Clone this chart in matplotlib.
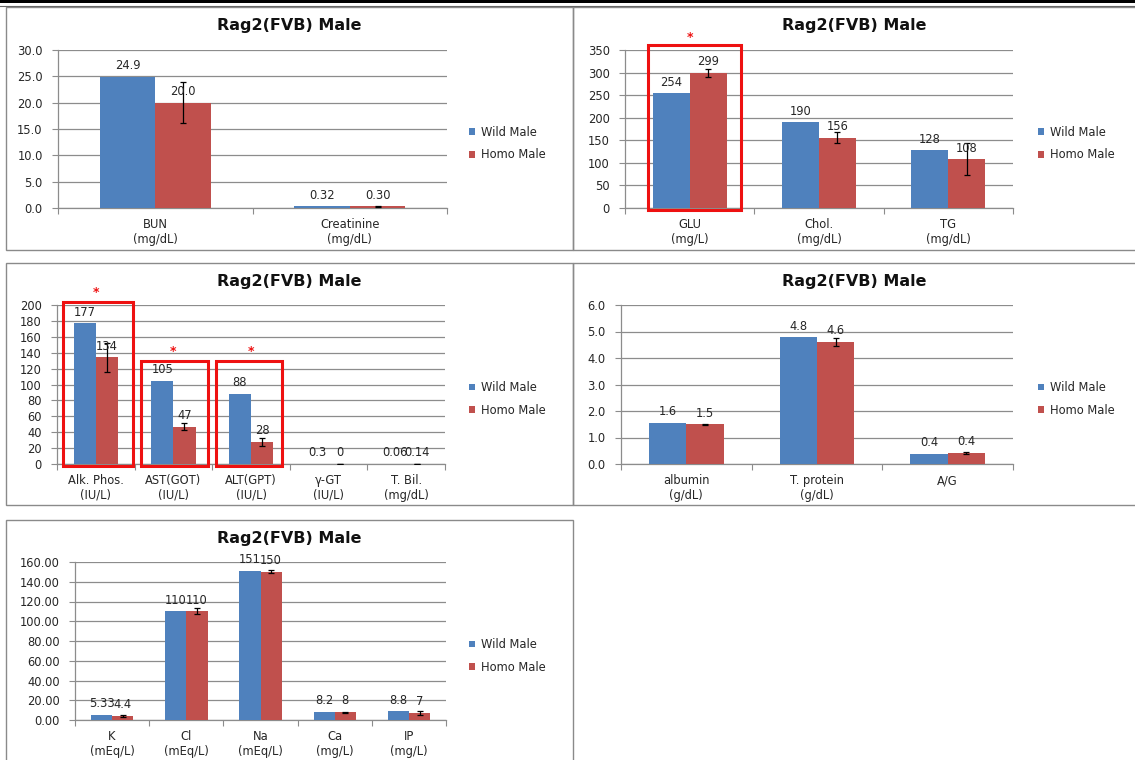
import matplotlib
matplotlib.use("Agg")
import matplotlib.pyplot as plt
from matplotlib.patches import Rectangle, Patch
from matplotlib.lines import Line2D
import numpy as np

# ---------------- data ----------------
title = "Rag2(FVB) Male"
series_names = ["Wild Male", "Homo Male"]

p1_cats = ["BUN\n(mg/dL)", "Creatinine\n(mg/dL)"]
p1_wild = [24.9, 0.32]
p1_homo = [20.0, 0.30]
p1_err = [3.9, 0.05]
p1_wild_lbl = ["24.9", "0.32"]
p1_homo_lbl = ["20.0", "0.30"]
p1_yticks = [0, 5, 10, 15, 20, 25, 30]

p2_cats = ["GLU\n(mg/L)", "Chol.\n(mg/dL)", "TG\n(mg/dL)"]
p2_wild = [254, 190, 128]
p2_homo = [299, 156, 108]
p2_err = [8.5, 12, 35]
p2_wild_lbl = ["254", "190", "128"]
p2_homo_lbl = ["299", "156", "108"]
p2_yticks = [0, 50, 100, 150, 200, 250, 300, 350]

p3_cats = ["Alk. Phos.\n(IU/L)", "AST(GOT)\n(IU/L)", "ALT(GPT)\n(IU/L)", "γ-GT\n(IU/L)", "T. Bil.\n(mg/dL)"]
p3_wild = [177, 105, 88, 0.3, 0.06]
p3_homo = [134, 47, 28, 0.0, 0.14]
p3_err = [18.5, 4, 5, 0, 0.02]
p3_wild_lbl = ["177", "105", "88", "0.3", "0.06"]
p3_homo_lbl = ["134", "47", "28", "0", "0.14"]
p3_yticks = [0, 20, 40, 60, 80, 100, 120, 140, 160, 180, 200]

p4_cats = ["albumin\n(g/dL)", "T. protein\n(g/dL)", "A/G"]
p4_wild = [1.55, 4.78, 0.38]
p4_homo = [1.50, 4.62, 0.42]
p4_err = [0.02, 0.15, 0.05]
p4_wild_lbl = ["1.6", "4.8", "0.4"]
p4_homo_lbl = ["1.5", "4.6", "0.4"]
p4_yticks = [0, 1, 2, 3, 4, 5, 6]

p5_cats = ["K\n(mEq/L)", "Cl\n(mEq/L)", "Na\n(mEq/L)", "Ca\n(mg/L)", "IP\n(mg/L)"]
p5_wild = [5.33, 110, 151, 8.2, 8.8]
p5_homo = [4.4, 110, 150, 8, 7]
p5_err = [1.0, 3.0, 1.5, 0.6, 2.0]
p5_wild_lbl = ["5.33", "110", "151", "8.2", "8.8"]
p5_homo_lbl = ["4.4", "110", "150", "8", "7"]
p5_yticks = [0, 20, 40, 60, 80, 100, 120, 140, 160]

# ---------------- style ----------------
W, H = 1135, 760
BLUE = "#4F81BD"
RED = "#C0504D"
GRID = "#8C8C8C"
AXC = "#8C8C8C"
TXT = "#262626"
BOXRED = "#EE1111"
FS = 8.3
plt.rcParams['font.family'] = ['DejaVu Sans']

fig = plt.figure(figsize=(W / 100, H / 100), dpi=100)


def fx(x):
    return x / W


def fy(y):
    return 1 - y / H


def add_ax(l, t, r, b):
    return fig.add_axes([fx(l), fy(b), (r - l) / W, (b - t) / H])


def frame(l, t, r, b):
    fig.add_artist(Rectangle((fx(l), fy(b)), (r - l) / W, (b - t) / H,
                             transform=fig.transFigure, fill=False,
                             edgecolor="#8A8A8A", lw=1.0))


# top rule
fig.add_artist(Rectangle((0, fy(3.3)), 1, 3.3 / H, transform=fig.transFigure,
                         color="black", lw=0))
fig.add_artist(Line2D([0, 1], [fy(5.6), fy(5.6)], transform=fig.transFigure,
                      color="#666666", lw=0.8))


def panel(box, plot, cats, wild, homo, err, wl, hl, yticks, fmt, legend_xy):
    l, t, r, b = box
    frame(l, t, r, b)
    fig.text(fx((l + r) / 2), fy(t + 18.5), title, ha="center", va="center",
             fontsize=11.5, fontweight="bold", color="#111111")
    ax = add_ax(*plot)
    n = len(cats)
    x = np.arange(n)
    bw = 1 / 3.5
    ax.bar(x - bw / 2, wild, bw, color=BLUE, zorder=3)
    ax.bar(x + bw / 2, homo, bw, color=RED, zorder=3)
    ax.errorbar(x + bw / 2, homo, yerr=err, fmt="none", ecolor="black",
                elinewidth=0.9, capsize=2.5, capthick=0.9, zorder=4)
    for xi, v, s in zip(x - bw / 2, wild, wl):
        ax.annotate(s, (xi, v), xytext=(0, 8), textcoords="offset points",
                    ha="center", va="center", fontsize=FS, color=TXT, zorder=5)
    for xi, v, s in zip(x + bw / 2, homo, hl):
        ax.annotate(s, (xi, v), xytext=(0, 8), textcoords="offset points",
                    ha="center", va="center", fontsize=FS, color=TXT, zorder=5)
    ax.set_xlim(-0.5, n - 0.5)
    ax.set_ylim(yticks[0], yticks[-1])
    ax.set_yticks(yticks)
    ax.set_yticklabels([fmt.format(v) for v in yticks], fontsize=FS, color=TXT)
    ax.set_xticks(x)
    ax.set_xticklabels(cats, fontsize=FS, color=TXT, linespacing=1.12)
    ax.set_xticks(np.arange(n + 1) - 0.5, minor=True)
    ax.tick_params(axis="x", which="major", length=0, pad=7.5)
    ax.tick_params(axis="x", which="minor", length=4, color=AXC, width=0.8)
    ax.tick_params(axis="y", length=4, color=AXC, width=0.8, pad=7)
    ax.grid(axis="y", color=GRID, lw=0.9, zorder=0)
    ax.set_axisbelow(True)
    for s in ("top", "right"):
        ax.spines[s].set_visible(False)
    for s in ("left", "bottom"):
        ax.spines[s].set_color(AXC)
        ax.spines[s].set_linewidth(0.9)
    ax.patch.set_alpha(0)
    handles = [Patch(facecolor=BLUE, edgecolor="none"),
               Patch(facecolor=RED, edgecolor="none")]
    ax.legend(handles, series_names, loc="center left",
              bbox_to_anchor=(fx(legend_xy[0]), fy(legend_xy[1])),
              bbox_transform=fig.transFigure, frameon=False, fontsize=FS,
              handlelength=0.55, handleheight=0.55, handletextpad=0.45,
              labelspacing=0.85, borderpad=0, borderaxespad=0,
              labelcolor=TXT)
    return ax


def red_box(ax, ci, top, left=-0.43, right=0.44, bottom_frac=-0.015):
    y0 = ax.get_ylim()[1] * bottom_frac
    ax.add_patch(Rectangle((ci + left, y0), right - left, top - y0,
                           fill=False, edgecolor=BOXRED, lw=2.2,
                           clip_on=False, zorder=6))


def star(ax, ci, yv):
    ax.text(ci, yv, "*", color=BOXRED, ha="center", va="center",
            fontsize=9, fontweight="bold", clip_on=False, zorder=6)


ax1 = panel((6, 7, 573, 250), (58, 50, 447, 208), p1_cats, p1_wild, p1_homo,
            p1_err, p1_wild_lbl, p1_homo_lbl, p1_yticks, "{:.1f}", (469, 143.5))
ax2 = panel((573, 7, 1136, 250), (625, 50, 1013, 208), p2_cats, p2_wild, p2_homo,
            p2_err, p2_wild_lbl, p2_homo_lbl, p2_yticks, "{:d}", (1038, 143.5))
ax3 = panel((6, 263, 573, 505), (57, 305, 445, 464), p3_cats, p3_wild, p3_homo,
            p3_err, p3_wild_lbl, p3_homo_lbl, p3_yticks, "{:d}", (469, 399))
ax4 = panel((573, 263, 1136, 505), (621, 305, 1013, 464), p4_cats, p4_wild, p4_homo,
            p4_err, p4_wild_lbl, p4_homo_lbl, p4_yticks, "{:.1f}", (1038, 399))
ax5 = panel((6, 520, 573, 762), (75, 562, 446, 720), p5_cats, p5_wild, p5_homo,
            p5_err, p5_wild_lbl, p5_homo_lbl, p5_yticks, "{:.2f}", (469, 656))

# significance markers
red_box(ax2, 0, 361, left=-0.32, right=0.40)
star(ax2, 0, 378)
red_box(ax3, 0, 204, left=-0.42, right=0.48)
red_box(ax3, 1, 130, left=-0.42, right=0.45)
red_box(ax3, 2, 130, left=-0.45, right=0.40)
star(ax3, 0, 216)
star(ax3, 1, 142)
star(ax3, 2, 142)

fig.savefig("out.png", dpi=100)
